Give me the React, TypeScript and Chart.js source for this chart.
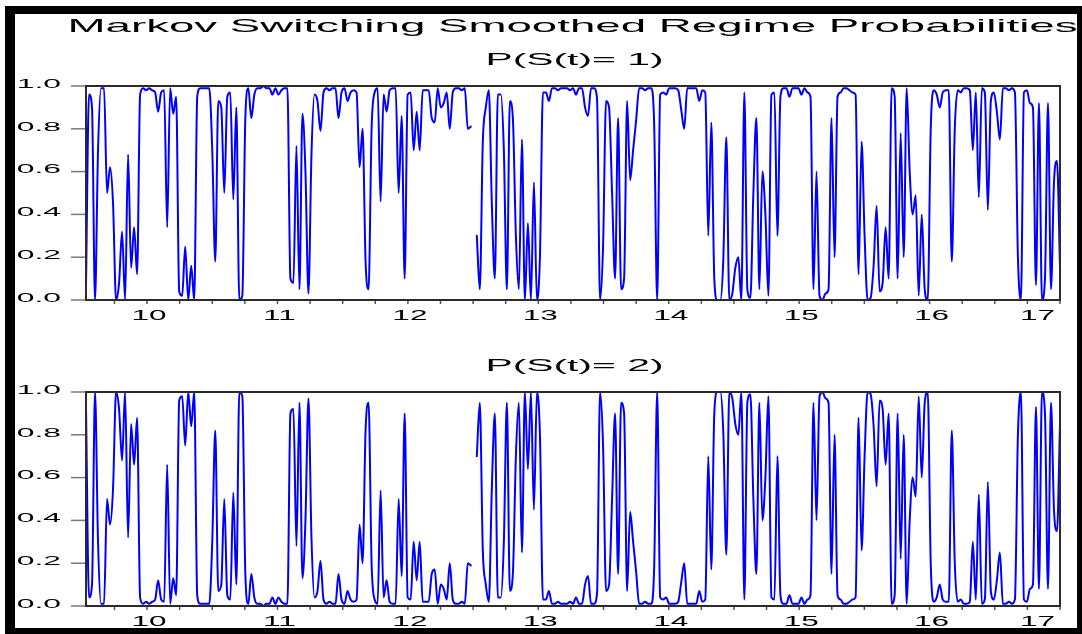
import React, { useEffect, useRef } from "react";
import { Chart, registerables } from "chart.js";

Chart.register(...registerables);

// ---------- data ----------
const startYear = 2009.532;
const endYear = 2017.0;
const yearTicks = [2010, 2011, 2012, 2013, 2014, 2015, 2016, 2017];
const yearLabels = ["10", "11", "12", "13", "14", "15", "16", "17"];
const yTicks = [0, 0.2, 0.4, 0.6, 0.8, 1.0];
const yLabels = ["0.0", "0.2", "0.4", "0.6", "0.8", "1.0"];
const mainTitle = "Markov Switching Smoothed Regime Probabilities";
const panelTitles = ["P(S(t)= 1)", "P(S(t)= 2)"];

const p1: (number | null)[] = [
  0.07, 0.96, 0.9, 0.0, 0.7, 0.99, 0.99, 0.5, 0.62, 0.45,
  0.0, 0.08, 0.32, 0.0, 0.68, 0.15, 0.34, 0.12, 0.96, 0.99,
  0.98, 0.99, 0.98, 0.97, 0.88, 0.97, 0.98, 0.34, 0.99, 0.87,
  0.95, 0.04, 0.02, 0.25, 0.0, 0.16, 0.0, 0.95, 0.99, 0.99,
  0.99, 0.99, 0.7, 0.18, 0.93, 0.9, 0.5, 0.95, 0.97, 0.47,
  0.9, 0.0, 0.02, 0.85, 0.99, 0.85, 0.96, 0.99, 0.99, 1.0,
  0.99, 0.99, 0.96, 0.99, 0.96, 0.98, 0.99, 0.99, 0.1, 0.08,
  0.72, 0.05, 0.87, 0.6, 0.03, 0.68, 0.96, 0.93, 0.79, 0.97,
  0.99, 0.98, 0.99, 0.99, 0.85, 0.97, 0.99, 0.93, 0.97, 0.98,
  0.97, 0.62, 0.8, 0.18, 0.05, 0.8, 0.97, 0.99, 0.46, 0.96,
  0.88, 0.98, 0.99, 0.99, 0.5, 0.86, 0.1, 0.96, 0.97, 0.7,
  0.88, 0.7, 0.98, 0.98, 0.98, 0.85, 0.83, 0.99, 0.9, 0.92,
  0.97, 0.8, 0.97, 0.99, 0.99, 0.98, 0.99, 0.8, 0.81, null,
  0.3, 0.05, 0.74, 0.9, 0.98, 0.45, 0.1, 0.96, 0.96, 0.7,
  0.05, 0.93, 0.85, 0.3, 0.05, 0.75, 0.0, 0.36, 0.0, 0.55,
  0.0, 0.2, 0.97, 0.97, 0.93, 0.99, 0.99, 0.98, 0.99, 0.99,
  0.99, 0.98, 0.99, 0.96, 0.99, 0.99, 0.9, 0.86, 0.99, 0.99,
  0.94, 0.0, 0.25, 0.93, 0.9, 0.5, 0.1, 0.85, 0.05, 0.1,
  0.93, 0.56, 0.7, 0.84, 0.99, 0.99, 0.98, 0.99, 0.99, 0.82,
  0.0, 0.96, 0.97, 0.96, 0.99, 0.99, 0.99, 0.98, 0.89, 0.8,
  0.99, 0.99, 0.99, 0.99, 0.93, 0.98, 0.97, 0.3, 0.83, 0.1,
  0.0, 0.0, 0.19, 0.76, 0.0, 0.03, 0.15, 0.2, 0.0, 0.97,
  0.05, 0.01, 0.5, 0.85, 0.05, 0.6, 0.4, 0.02, 0.96, 0.97,
  0.3, 0.95, 0.99, 0.99, 0.95, 0.99, 0.99, 0.99, 0.96, 0.99,
  0.97, 0.95, 0.05, 0.6, 0.02, 0.0, 0.03, 0.05, 0.85, 0.2,
  0.95, 0.97, 0.99, 0.99, 0.98, 0.97, 0.96, 0.12, 0.74, 0.3,
  0.0, 0.01, 0.16, 0.44, 0.04, 0.08, 0.34, 0.1, 0.99, 0.95,
  0.1, 0.78, 0.2, 0.99, 0.6, 0.4, 0.49, 0.02, 0.4, 0.05,
  0.0, 0.8, 0.98, 0.96, 0.9, 0.97, 0.98, 0.98, 0.18, 0.8,
  0.98, 0.97, 0.99, 0.99, 0.98, 0.7, 0.97, 0.48, 0.99, 0.97,
  0.42, 0.93, 0.97, 0.88, 0.75, 0.99, 0.99, 0.98, 0.99, 0.97,
  0.2, 0.0, 0.97, 0.98, 0.92, 0.9, 0.07, 0.92, 0.0, 0.1,
  0.92, 0.05, 0.55, 0.65, 0.15,
];

const p2: (number | null)[] = [
  0.93, 0.04, 0.1, 1.0, 0.3, 0.01, 0.01, 0.5, 0.38, 0.55,
  1.0, 0.92, 0.68, 1.0, 0.32, 0.85, 0.66, 0.88, 0.04, 0.01,
  0.02, 0.01, 0.02, 0.03, 0.12, 0.03, 0.02, 0.66, 0.01, 0.13,
  0.05, 0.96, 0.98, 0.75, 1.0, 0.84, 1.0, 0.05, 0.01, 0.01,
  0.01, 0.01, 0.3, 0.82, 0.07, 0.1, 0.5, 0.05, 0.03, 0.53,
  0.1, 1.0, 0.98, 0.15, 0.01, 0.15, 0.04, 0.01, 0.01, 0.0,
  0.01, 0.01, 0.04, 0.01, 0.04, 0.02, 0.01, 0.01, 0.9, 0.92,
  0.28, 0.95, 0.13, 0.4, 0.97, 0.32, 0.04, 0.07, 0.21, 0.03,
  0.01, 0.02, 0.01, 0.01, 0.15, 0.03, 0.01, 0.07, 0.03, 0.02,
  0.03, 0.38, 0.2, 0.82, 0.95, 0.2, 0.03, 0.01, 0.54, 0.04,
  0.12, 0.02, 0.01, 0.01, 0.5, 0.14, 0.9, 0.04, 0.03, 0.3,
  0.12, 0.3, 0.02, 0.02, 0.02, 0.15, 0.17, 0.01, 0.1, 0.08,
  0.03, 0.2, 0.03, 0.01, 0.01, 0.02, 0.01, 0.2, 0.19, null,
  0.7, 0.95, 0.26, 0.1, 0.02, 0.55, 0.9, 0.04, 0.04, 0.3,
  0.95, 0.07, 0.15, 0.7, 0.95, 0.25, 1.0, 0.64, 1.0, 0.45,
  1.0, 0.8, 0.03, 0.03, 0.07, 0.01, 0.01, 0.02, 0.01, 0.01,
  0.01, 0.02, 0.01, 0.04, 0.01, 0.01, 0.1, 0.14, 0.01, 0.01,
  0.06, 1.0, 0.75, 0.07, 0.1, 0.5, 0.9, 0.15, 0.95, 0.9,
  0.07, 0.44, 0.3, 0.16, 0.01, 0.01, 0.02, 0.01, 0.01, 0.18,
  1.0, 0.04, 0.03, 0.04, 0.01, 0.01, 0.01, 0.02, 0.11, 0.2,
  0.01, 0.01, 0.01, 0.01, 0.07, 0.02, 0.03, 0.7, 0.17, 0.9,
  1.0, 1.0, 0.81, 0.24, 1.0, 0.97, 0.85, 0.8, 1.0, 0.03,
  0.95, 0.99, 0.5, 0.15, 0.95, 0.4, 0.6, 0.98, 0.04, 0.03,
  0.7, 0.05, 0.01, 0.01, 0.05, 0.01, 0.01, 0.01, 0.04, 0.01,
  0.03, 0.05, 0.95, 0.4, 0.98, 1.0, 0.97, 0.95, 0.15, 0.8,
  0.05, 0.03, 0.01, 0.01, 0.02, 0.03, 0.04, 0.88, 0.26, 0.7,
  1.0, 0.99, 0.84, 0.56, 0.96, 0.92, 0.66, 0.9, 0.01, 0.05,
  0.9, 0.22, 0.8, 0.01, 0.4, 0.6, 0.51, 0.98, 0.6, 0.95,
  1.0, 0.2, 0.02, 0.04, 0.1, 0.03, 0.02, 0.02, 0.82, 0.2,
  0.02, 0.03, 0.01, 0.01, 0.02, 0.3, 0.03, 0.52, 0.01, 0.03,
  0.58, 0.07, 0.03, 0.12, 0.25, 0.01, 0.01, 0.02, 0.01, 0.03,
  0.8, 1.0, 0.03, 0.02, 0.08, 0.1, 0.93, 0.08, 1.0, 0.9,
  0.08, 0.95, 0.45, 0.35, 0.85,
];

// regular (daily-sampled) observation times
const dates = p1.map((_, i) => startYear + ((endYear - startYear) * i) / (p1.length - 1));

// ---------- drawing helpers ----------
const FONT = '"Liberation Sans", Arial, Helvetica, sans-serif';

function stretchText(
  ctx: CanvasRenderingContext2D,
  text: string,
  x: number,
  y: number,
  fontPx: number,
  align: "center" | "right",
  sx: number | null,
  width?: number
) {
  ctx.save();
  ctx.font = `${fontPx}px ${FONT}`;
  ctx.textAlign = "left";
  ctx.textBaseline = "alphabetic";
  const w = ctx.measureText(text).width;
  const s = width ? width / w : (sx as number);
  const total = w * s;
  const left = align === "center" ? x - total / 2 : x - total;
  ctx.translate(left, y);
  ctx.scale(s, 1);
  ctx.fillStyle = "#000";
  ctx.fillText(text, 0, 0);
  ctx.restore();
}

function makePlugin(panelTitle: string, titleBaseline: number, withMain: boolean) {
  return {
    id: "eviewsDecor",
    afterDraw(chart: any) {
      const ctx: CanvasRenderingContext2D = chart.ctx;
      const area = chart.chartArea;
      const xs = chart.scales.x;
      const ys = chart.scales.y;

      if (withMain) {
        stretchText(ctx, mainTitle, 572.5, 32, 19, "center", null, 1010);
      }
      stretchText(ctx, panelTitle, 574.5, titleBaseline, 16, "center", null, 178);

      ctx.save();
      ctx.strokeStyle = "#7a7a7a";
      ctx.lineWidth = 1.5;
      yTicks.forEach((v) => {
        const py = ys.getPixelForValue(v);
        ctx.beginPath();
        ctx.moveTo(area.left - 15, py);
        ctx.lineTo(area.left, py);
        ctx.stroke();
      });
      ctx.restore();
      yTicks.forEach((v, i) => {
        const py = ys.getPixelForValue(v);
        stretchText(ctx, yLabels[i], 61, py + 1.8, 12.5, "right", 2.55);
      });

      ctx.save();
      ctx.strokeStyle = "#555";
      ctx.lineWidth = 1.5;
      for (let q = Math.ceil(startYear * 4) / 4; q <= endYear + 1e-6; q += 0.25) {
        const px = xs.getPixelForValue(q);
        ctx.beginPath();
        ctx.moveTo(px, area.bottom);
        ctx.lineTo(px, area.bottom + 4);
        ctx.stroke();
      }
      ctx.restore();

      yearTicks.forEach((yv, i) => {
        let px = xs.getPixelForValue(yv) + 2;
        ctx.save();
        ctx.font = `14px ${FONT}`;
        const half = (ctx.measureText(yearLabels[i]).width * 2.25) / 2;
        ctx.restore();
        if (px + half > area.right - 5) px = area.right - 5 - half;
        stretchText(ctx, yearLabels[i], px, area.bottom + 20, 14, "center", 2.25);
      });

      ctx.save();
      ctx.strokeStyle = "#2b2b2b";
      ctx.lineWidth = 2;
      ctx.strokeRect(area.left, area.top, area.right - area.left, area.bottom - area.top);
      ctx.restore();
    },
  };
}

function Panel(props: {
  values: (number | null)[];
  top: number;
  height: number;
  padTop: number;
  padBottom: number;
  title: string;
  titleBaseline: number;
  withMain: boolean;
}) {
  const ref = useRef<HTMLCanvasElement | null>(null);
  useEffect(() => {
    if (!ref.current) return;
    const chart = new Chart(ref.current, {
      type: "line",
      data: {
        datasets: [
          {
            data: props.values.map((v, i) => ({ x: dates[i], y: v })),
            borderColor: "#0000ff",
            borderWidth: 2,
            borderJoinStyle: "round",
            borderCapStyle: "round",
            pointRadius: 0,
            cubicInterpolationMode: "monotone",
            spanGaps: false,
            fill: false,
            clip: 3,
          } as any,
        ],
      },
      options: {
        responsive: false,
        animation: false,
        events: [],
        layout: {
          padding: { left: 86, right: 22, top: props.padTop, bottom: props.padBottom },
        },
        plugins: { legend: { display: false }, tooltip: { enabled: false }, title: { display: false } },
        scales: {
          x: { type: "linear", min: startYear, max: endYear, display: false },
          y: { type: "linear", min: 0, max: 1, display: false },
        },
      },
      plugins: [makePlugin(props.title, props.titleBaseline, props.withMain)],
    });
    return () => chart.destroy();
  }, []);
  return (
    <canvas
      ref={ref}
      width={1082}
      height={props.height}
      style={{ position: "absolute", left: 0, top: props.top, width: 1082, height: props.height }}
    />
  );
}

export default function App() {
  return (
    <div
      style={{
        position: "absolute",
        left: 0,
        top: 0,
        width: 1082,
        height: 634,
        background: "#fff",
        overflow: "hidden",
      }}
    >
      <div
        style={{
          position: "absolute",
          left: 5,
          top: 6,
          width: 1077,
          height: 628,
          boxSizing: "border-box",
          borderLeft: "10px solid #000",
          borderTop: "8px solid #000",
          borderRight: "5px solid #000",
          borderBottom: "6px solid #000",
        }}
      />
      <Panel values={p1} top={0} height={330} padTop={86} padBottom={30} title={panelTitles[0]} titleBaseline={65} withMain={true} />
      <Panel values={p2} top={330} height={304} padTop={62} padBottom={28} title={panelTitles[1]} titleBaseline={41} withMain={false} />
    </div>
  );
}
